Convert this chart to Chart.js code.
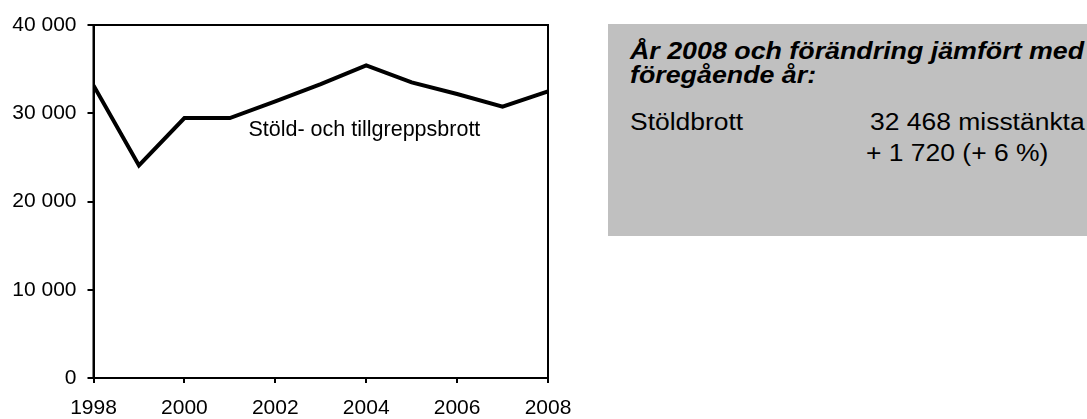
<!DOCTYPE html>
<html lang="sv">
<head>
<meta charset="utf-8">
<title>Stöld- och tillgreppsbrott</title>
<script src="https://cdn.jsdelivr.net/npm/chart.js@4.4.1/dist/chart.umd.min.js"></script>
<style>
  html, body { margin: 0; padding: 0; background: #fff; }
  body { width: 1087px; height: 419px; position: relative; overflow: hidden; font-family: "Liberation Sans", Arial, sans-serif; }
  #chart { position: absolute; left: 0; top: 0; }
  .infobox { position: absolute; left: 608px; top: 24px; width: 479px; height: 212px; background: #c0c0c0; }
  /* texten i rutan är bredare än vanlig Arial, så den sträcks något */
  .txt { position: absolute; white-space: nowrap; font-size: 23px; line-height: 23px; color: #000;
         transform: scaleX(1.15); transform-origin: 0 0; }
  .title { font-weight: bold; font-style: italic; transform: scaleX(1.165); }
</style>
</head>
<body>
<canvas id="chart" width="600" height="419"></canvas>

<div class="infobox"></div>
<div class="txt title" style="left:630px; top:40px;">År 2008 och förändring jämfört med</div>
<div class="txt title" style="left:630px; top:63.5px;">föregående år:</div>
<div class="txt" style="left:630px; top:110.5px;">Stöldbrott</div>
<div class="txt" style="left:870px; top:110.5px;">32 468 misstänkta</div>
<div class="txt" style="left:866px; top:141.5px;">+ 1 720 (+ 6 %)</div>

<script>
// --- data ---
const years = [1998, 1999, 2000, 2001, 2002, 2003, 2004, 2005, 2006, 2007, 2008];
const suspects = [33160, 24090, 29460, 29460, 31340, 33300, 35420, 33500, 32180, 30748, 32468];
const seriesLabel = "Stöld- och tillgreppsbrott";
const yTicks = [0, 10000, 20000, 30000, 40000];
const xTicks = [1998, 2000, 2002, 2004, 2006, 2008];

const FONT = "'Liberation Sans', Arial, sans-serif";

// tusentalsavgränsare med mellanslag
const fmt = (v) => String(v).replace(/\B(?=(\d{3})+(?!\d))/g, " ");

// ram runt plotytan + etikett vid linjen
const framePlugin = {
  id: "frame",
  beforeDatasetsDraw(chart) {
    const { ctx, chartArea: a } = chart;
    ctx.save();
    ctx.strokeStyle = "#000";
    ctx.lineWidth = 2;
    ctx.strokeRect(a.left, a.top, a.right - a.left, a.bottom - a.top);
    ctx.restore();
  },
  afterDatasetsDraw(chart) {
    const { ctx, scales } = chart;
    ctx.save();
    ctx.fillStyle = "#000";
    ctx.font = "21.5px " + FONT;
    ctx.textAlign = "left";
    ctx.textBaseline = "alphabetic";
    ctx.fillText(seriesLabel, scales.x.getPixelForValue(2001.41), scales.y.getPixelForValue(27380));
    ctx.restore();
  },
};

new Chart(document.getElementById("chart"), {
  type: "line",
  data: {
    datasets: [
      {
        label: seriesLabel,
        data: years.map((y, i) => ({ x: y, y: suspects[i] })),
        borderColor: "#000",
        borderWidth: 4,
        borderJoinStyle: "miter",
        pointRadius: 0,
        tension: 0,
        fill: false,
      },
    ],
  },
  options: {
    responsive: false,
    animation: false,
    devicePixelRatio: 1,
    layout: { padding: { top: 25, right: 52, left: 0, bottom: 0 } },
    plugins: { legend: { display: false }, tooltip: { enabled: false } },
    scales: {
      x: {
        type: "linear",
        min: 1998,
        max: 2008,
        afterBuildTicks: (s) => { s.ticks = xTicks.map((v) => ({ value: v })); },
        afterFit: (s) => { s.height = 41; },
        ticks: { color: "#000", font: { family: FONT, size: 21 }, padding: 13, maxRotation: 0, callback: (v) => String(v) },
        grid: { drawOnChartArea: false, drawTicks: true, tickLength: 5, color: "#000", lineWidth: 2 },
        border: { display: true, color: "#000", width: 2 },
      },
      y: {
        min: 0,
        max: 40000,
        afterBuildTicks: (s) => { s.ticks = yTicks.map((v) => ({ value: v })); },
        afterFit: (s) => { s.width = 93.5; },
        ticks: { color: "#000", font: { family: FONT, size: 21 }, padding: 11, callback: (v) => fmt(v) },
        grid: { drawOnChartArea: false, drawTicks: true, tickLength: 6, color: "#000", lineWidth: 2 },
        border: { display: true, color: "#000", width: 2 },
      },
    },
  },
  plugins: [framePlugin],
});
</script>
</body>
</html>
